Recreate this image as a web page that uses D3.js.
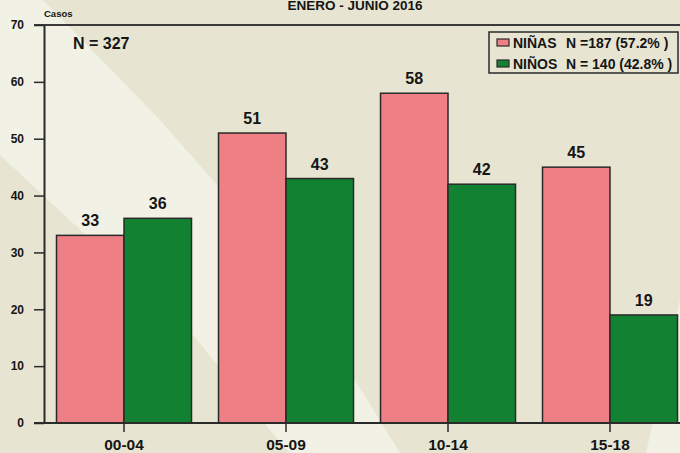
<!DOCTYPE html>
<html>
<head>
<meta charset="utf-8">
<script src="https://cdn.jsdelivr.net/npm/d3@7"></script>
<style>
  body { margin: 0; background: #e7e5d2; }
  svg { display: block; font-family: "Liberation Sans", Arial, sans-serif; }
</style>
</head>
<body>
<svg></svg>
<script>
// data
let categories = ["00-04", "05-09", "10-14", "15-18"];
let series = ["NIÑAS", "NIÑOS"];
let ninas = [33, 51, 58, 45];
let ninos = [36, 43, 42, 19];
let yTicks = [0, 10, 20, 30, 40, 50, 60, 70];
let legendNotes = ["N =187 (57.2% )", "N = 140 (42.8% )"];
let colors = ["#ee7f84", "#128232"];

let width = 680;
let height = 453;
let plotTop = 25;
let plotBottom = 423;
let plotLeft = 44;

let rows = categories.map((c, i) => ({ cat: c, values: [ninas[i], ninos[i]] }));

let svg = d3.select("svg")
            .attr("width", width)
            .attr("height", height)

// background with light diagonal streaks
svg.append("rect")
    .attr("width", width)
    .attr("height", height)
    .attr("fill", "#e7e5d2")

let streaks = [
    [[0, 0], [43, 0], [160, 120], [217, 185], [353, 377], [400, 453], [290, 453], [270, 430], [193, 335], [0, 155]],
    [[646, 453], [680, 300], [680, 453]]
];
svg.selectAll(".streak")
    .data(streaks)
    .enter()
    .append("polygon")
    .attr("points", d => d.map(p => p.join(",")).join(" "))
    .attr("fill", "#f1f1e5")

let xScale = d3.scaleBand()
                .domain(categories)
                .range([43, 691])
                .paddingInner(1 / 6)
                .paddingOuter(1 / 12)

let xInner = d3.scaleBand()
                .domain(series)
                .range([0, xScale.bandwidth()])

let yScale = d3.scaleLinear()
                .domain([0, 70])
                .range([plotBottom, plotTop])

// frame line on top
svg.append("line")
    .attr("x1", 34).attr("x2", width)
    .attr("y1", plotTop).attr("y2", plotTop)
    .attr("stroke", "#3a3a3a")
    .attr("stroke-width", 2)

// bars
let groups = svg.selectAll(".grp")
    .data(rows)
    .enter()
    .append("g")
    .attr("transform", d => "translate(" + xScale(d.cat) + ",0)")

groups.selectAll("rect")
    .data(d => d.values.map((v, i) => ({ s: series[i], v: v, i: i })))
    .enter()
    .append("rect")
    .attr("x", d => xInner(d.s))
    .attr("y", d => yScale(d.v))
    .attr("width", xInner.bandwidth())
    .attr("height", d => plotBottom - yScale(d.v))
    .attr("fill", d => colors[d.i])
    .attr("stroke", "#2a2a2a")
    .attr("stroke-width", 1.5)

groups.selectAll("text")
    .data(d => d.values.map((v, i) => ({ s: series[i], v: v })))
    .enter()
    .append("text")
    .attr("x", d => xInner(d.s) + xInner.bandwidth() / 2)
    .attr("y", d => yScale(d.v) - 9)
    .attr("text-anchor", "middle")
    .attr("font-size", 16)
    .attr("font-weight", "bold")
    .attr("fill", "#151515")
    .text(d => d.v)

// y axis
let yAxis = d3.axisLeft(yScale)
                .tickValues(yTicks)
                .tickSize(10)
                .tickSizeOuter(0)
                .tickPadding(10)

let gy = svg.append("g")
    .attr("transform", "translate(" + plotLeft + ",0)")
    .call(yAxis)
gy.select(".domain").attr("stroke", "#2a2a2a").attr("stroke-width", 2)
gy.selectAll(".tick line").attr("stroke", "#2a2a2a").attr("stroke-width", 1.5)
gy.selectAll(".tick text")
    .attr("font-size", 12)
    .attr("font-weight", "bold")
    .attr("font-family", "Liberation Sans, Arial, sans-serif")
    .attr("fill", "#151515")

// x axis
svg.append("line")
    .attr("x1", 34).attr("x2", width)
    .attr("y1", plotBottom).attr("y2", plotBottom)
    .attr("stroke", "#2a2a2a")
    .attr("stroke-width", 2)

let xAxis = d3.axisBottom(xScale)
                .tickSize(9)
                .tickSizeOuter(0)
                .tickPadding(7)

let gx = svg.append("g")
    .attr("transform", "translate(0," + plotBottom + ")")
    .call(xAxis)
gx.select(".domain").remove()
gx.selectAll(".tick line").attr("stroke", "#2a2a2a").attr("stroke-width", 1.5)
gx.selectAll(".tick text")
    .attr("font-size", 15.5)
    .attr("font-weight", "bold")
    .attr("font-family", "Liberation Sans, Arial, sans-serif")
    .attr("fill", "#151515")

// titles
svg.append("text")
    .attr("x", 355)
    .attr("y", 10)
    .attr("text-anchor", "middle")
    .attr("font-size", 13.5)
    .attr("font-weight", "bold")
    .attr("fill", "#151515")
    .text("ENERO - JUNIO 2016")

svg.append("text")
    .attr("x", 44)
    .attr("y", 17)
    .attr("font-size", 9.5)
    .attr("font-weight", "bold")
    .attr("fill", "#151515")
    .text("Casos")

svg.append("text")
    .attr("x", 73)
    .attr("y", 49)
    .attr("font-size", 16)
    .attr("font-weight", "bold")
    .attr("fill", "#151515")
    .text("N = 327")

// legend
let legend = svg.append("g")
    .attr("transform", "translate(489,32)")

legend.append("rect")
    .attr("width", 189)
    .attr("height", 41)
    .attr("fill", "#e7e5d2")
    .attr("stroke", "#2a2a2a")
    .attr("stroke-width", 1.5)

let items = legend.selectAll(".item")
    .data(series)
    .enter()
    .append("g")
    .attr("transform", (d, i) => "translate(0," + (i * 21) + ")")

items.append("rect")
    .attr("x", 8)
    .attr("y", 7)
    .attr("width", 12)
    .attr("height", 7)
    .attr("fill", (d, i) => colors[i])
    .attr("stroke", "#2a2a2a")
    .attr("stroke-width", 1.2)

items.append("text")
    .attr("x", 24)
    .attr("y", 16)
    .attr("font-size", 14)
    .attr("font-weight", "bold")
    .attr("fill", "#151515")
    .text(d => d)

items.append("text")
    .attr("x", 77)
    .attr("y", 16)
    .attr("font-size", 14)
    .attr("font-weight", "bold")
    .attr("fill", "#151515")
    .text((d, i) => legendNotes[i])
</script>
</body>
</html>
